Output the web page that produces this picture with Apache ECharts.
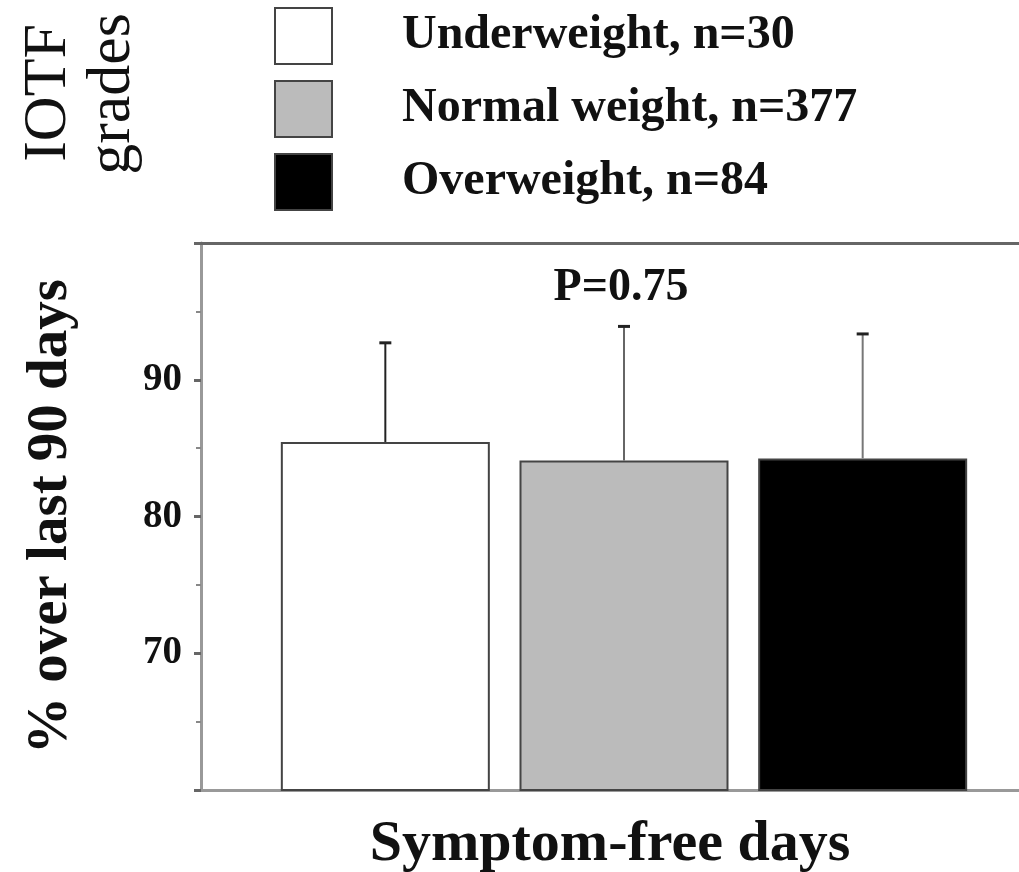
<!DOCTYPE html>
<html>
<head>
<meta charset="utf-8">
<script src="https://cdn.jsdelivr.net/npm/echarts@6/dist/echarts.min.js"></script>
<style>
  html, body { margin: 0; padding: 0; background: #fff; }
  #chart { width: 1019px; height: 872px; }
</style>
</head>
<body>
<div id="chart"></div>
<script>
// ---- data ----
const categories = ['Underweight', 'Normal weight', 'Overweight'];
const seriesNames = ['Underweight, n=30', 'Normal weight, n=377', 'Overweight, n=84'];
const means = [85.45, 84.1, 84.25];
const upperErr = [92.7, 93.9, 93.35];
const yTickLabels = [70, 80, 90];
const pValueText = 'P=0.75';

// ---- styles ----
const barColors = ['#ffffff', '#bbbbbb', '#000000'];
const errColors = ['#222222', '#666666', '#777777'];
const FONT = '"Liberation Serif", "Times New Roman", serif';

const chart = echarts.init(document.getElementById('chart'), null, { renderer: 'canvas' });

const barSeries = seriesNames.map((name, i) => ({
  name: name,
  type: 'bar',
  xAxisIndex: 0,
  yAxisIndex: 0,
  barWidth: 209,
  barGap: '-100%',
  data: categories.map((c, j) => (j === i ? means[j] : '-')),
  itemStyle: { color: barColors[i], borderColor: '#444', borderWidth: 2 },
  emphasis: { disabled: true },
  z: 2
}));

const errSeries = {
  type: 'custom',
  xAxisIndex: 0,
  yAxisIndex: 0,
  z: 5,
  silent: true,
  data: categories.map((c, i) => [i, means[i], upperErr[i]]),
  renderItem: function (params, api) {
    const i = api.value(0);
    const base = api.coord([i, api.value(1)]);
    const top = api.coord([i, api.value(2)]);
    const col = errColors[params.dataIndex];
    return {
      type: 'group',
      children: [
        { type: 'line', shape: { x1: base[0], y1: base[1], x2: top[0], y2: top[1] },
          style: { stroke: col, lineWidth: 2 } },
        { type: 'line', shape: { x1: top[0] - 6, y1: top[1], x2: top[0] + 6, y2: top[1] },
          style: { stroke: '#222', lineWidth: 3 } }
      ]
    };
  }
};

const option = {
  backgroundColor: '#ffffff',
  animation: false,
  textStyle: { fontFamily: FONT },
  title: {
    text: pValueText,
    left: 616,
    top: 260,
    textAlign: 'center',
    textStyle: { fontFamily: FONT, fontSize: 46, fontWeight: 'bold', color: '#111' }
  },
  legend: {
    orient: 'vertical',
    left: 274,
    top: 6,
    padding: 0,
    itemWidth: 57,
    itemHeight: 56,
    itemGap: 13,
    icon: 'rect',
    selectedMode: false,
    data: seriesNames,
    textStyle: { fontFamily: FONT, fontSize: 48, lineHeight: 48, fontWeight: 'bold', color: '#111', padding: [0, 0, 12, 65] }
  },
  graphic: [
    { type: 'text', left: 18, top: 24, rotation: Math.PI / 2,
      style: { text: 'IOTF', font: '62px "Liberation Serif"', fill: '#111' } },
    { type: 'text', left: 82, top: 13, rotation: Math.PI / 2,
      style: { text: 'grades', font: '62px "Liberation Serif"', fill: '#111' } }
  ],
  grid: [
    { left: 266, right: 37, top: 243, bottom: 82, outerBoundsMode: 'none', containLabel: false },
    { left: 201, right: 0, top: 243, bottom: 82, outerBoundsMode: 'none', containLabel: false }
  ],
  xAxis: [
    { type: 'category', gridIndex: 0, data: categories, show: false },
    { type: 'category', gridIndex: 1, data: [''], position: 'bottom',
      axisLine: { show: true, lineStyle: { color: '#999', width: 3 } },
      axisTick: { show: false }, axisLabel: { show: false },
      name: 'Symptom-free days', nameLocation: 'middle', nameGap: 26,
      nameTextStyle: { fontFamily: FONT, fontSize: 58, fontWeight: 'bold', color: '#111' } },
    { type: 'category', gridIndex: 1, data: [''], position: 'top',
      axisLine: { show: true, lineStyle: { color: '#666', width: 3 } },
      axisTick: { show: false }, axisLabel: { show: false } }
  ],
  yAxis: [
    { type: 'value', gridIndex: 0, min: 60, max: 100, show: false },
    { type: 'value', gridIndex: 1, min: 60, max: 100, interval: 10,
      axisLine: { show: true, lineStyle: { color: '#999', width: 3 } },
      axisTick: { show: true, length: 7, lineStyle: { color: '#666', width: 3 } },
      minorTick: { show: true, splitNumber: 2, length: 5, lineStyle: { color: '#888', width: 2 } },
      splitLine: { show: false },
      axisLabel: {
        margin: 19,
        fontFamily: FONT, fontSize: 39, fontWeight: 'bold', color: '#111',
        formatter: v => (yTickLabels.indexOf(v) >= 0 ? String(v) : '')
      },
      name: '% over last 90 days', nameLocation: 'middle', nameGap: 121, nameRotate: 90,
      nameTextStyle: { fontFamily: FONT, fontSize: 57, fontWeight: 'bold', color: '#111' } }
  ],
  series: barSeries.concat([errSeries])
};

chart.setOption(option);
</script>
</body>
</html>
